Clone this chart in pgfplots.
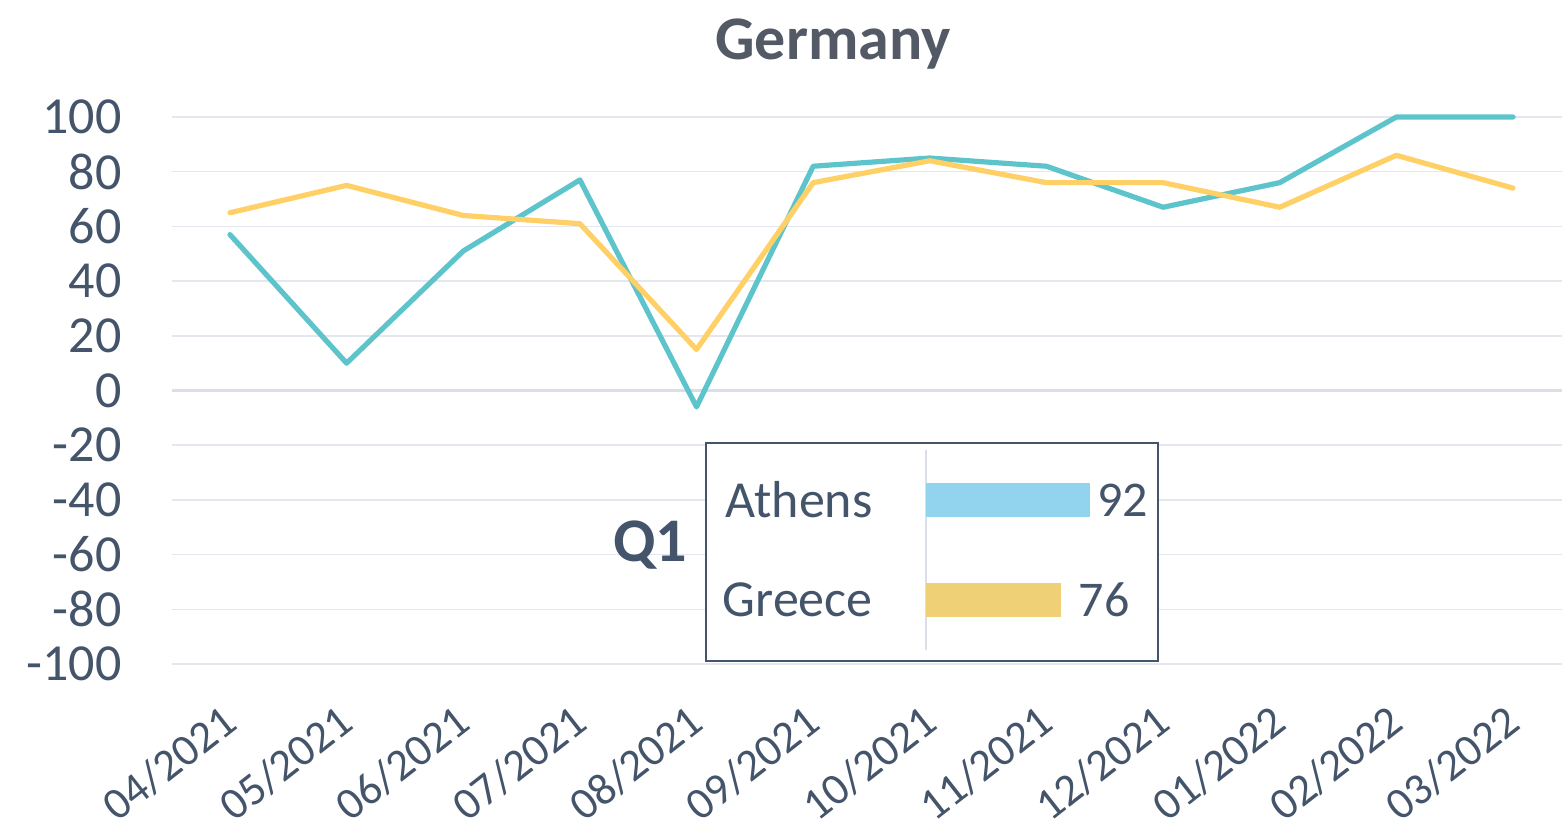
\documentclass[border=0pt]{standalone}
\usepackage{pgfplots}
\pgfplotsset{compat=1.18}
\usepackage{fontspec}
\setmainfont{Carlito}
\definecolor{textc}{HTML}{44546A}
\definecolor{titlec}{HTML}{535A66}
\definecolor{tealc}{HTML}{5EC4CC}
\definecolor{yellc}{HTML}{FFD066}
\definecolor{gridc}{HTML}{E4E7ED}
\definecolor{zeroc}{HTML}{D9DEE7}
\definecolor{barblue}{HTML}{92D3EE}
\definecolor{baryell}{HTML}{F0D077}
\begin{document}
\begin{tikzpicture}
\begin{axis}[
  at={(86pt,81pt)}, anchor=south west,
  scale only axis, width=695pt, height=273.5pt,
  xmin=-0.497, xmax=11.42, ymin=-100, ymax=100,
  xtick={0,...,11},
  xticklabels={04/2021,05/2021,06/2021,07/2021,08/2021,09/2021,10/2021,11/2021,12/2021,01/2022,02/2022,03/2022},
  ytick={-100,-80,...,100},
  axis line style={draw=none}, tick style={draw=none},
  ymajorgrids, grid style={gridc, line width=0.75pt},
  extra y ticks={0}, extra y tick labels={},
  extra y tick style={grid style={zeroc, line width=1.5pt}},
  clip=false,
  /pgf/number format/assume math mode=true,
  tick label style={text=textc},
  yticklabel style={font=\fontsize{26}{26}\selectfont, anchor=east, inner sep=0pt, xshift=-25pt},
  xticklabel style={font=\fontsize{22.5}{22.5}\selectfont, inner sep=0pt, anchor=north east, xshift=-5pt, yshift=-19pt, rotate=38},
]
\addplot[tealc, line width=2.6pt, line cap=round, line join=round] coordinates {(0,57)(1,10)(2,51)(3,77)(4,-6)(5,82)(6,85)(7,82)(8,67)(9,76)(10,100)(11,100)};
\addplot[yellc, line width=2.6pt, line cap=round, line join=round] coordinates {(0,65)(1,75)(2,64)(3,61)(4,15)(5,76)(6,84)(7,76)(8,76)(9,67)(10,86)(11,74)};
\end{axis}
\node[anchor=base, font=\fontsize{31}{31}\selectfont\bfseries, text=titlec] at (416.5pt,383pt) {Germany};
\draw[textc, line width=0.75pt, fill=white] (353pt,82.5pt) rectangle (579pt,191.5pt);
\node[font=\fontsize{31}{31}\selectfont\bfseries, text=textc] at (325pt,140.5pt) {Q1};
\begin{axis}[
  at={(463pt,88pt)}, anchor=south west,
  scale only axis, width=89pt, height=100pt,
  xmin=0, xmax=100, ymin=-0.5, ymax=1.5,
  xbar, bar width=17pt,
  hide x axis, axis y line*=left,
  y axis line style={draw=zeroc, line width=1.2pt, -},
  ytick={0,1}, yticklabels={Greece,Athens},
  major tick length=0pt, tick style={draw=none},
  yticklabel style={font=\fontsize{26}{26}\selectfont, text=textc, anchor=east, inner sep=0pt, xshift=-26.5pt},
  nodes near coords,
  nodes near coords style={font=\fontsize{25}{25}\selectfont, text=textc, anchor=west, inner sep=0pt},
  /pgf/number format/assume math mode=true,
  clip=false,
]
\addplot[fill=barblue, draw=none, bar shift=0pt, every node near coord/.append style={xshift=3.5pt}] coordinates {(92,1)};
\addplot[fill=baryell, draw=none, bar shift=0pt, every node near coord/.append style={xshift=8.5pt}] coordinates {(76,0)};
\end{axis}
\pgfresetboundingbox
\path (0pt,0pt) rectangle (781pt,413pt);
\end{tikzpicture}
\end{document}
